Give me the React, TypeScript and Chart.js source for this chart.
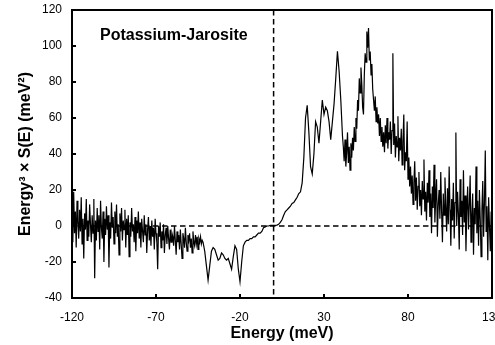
import React, { useEffect, useRef } from "react";
import { Chart, registerables } from "chart.js";

Chart.register(...registerables);

// Energy³ × S(E) (meV²), in three pieces on their own energy grids.

// -120 ... -42.5 meV, every 0.5 meV (noisy low-energy side)
const leftStart = -120;
const leftStep = 0.5;
const leftValues = [
  5, -9, 19, -4, 8, -12, 14, 2, -7, 9, -3, 16, -10, 4, -18, 7, -2, 15, -8, 3,
  -6, 12, 1, -9, 6, -4, 15, -29, 3, -8, 10, -3, 6, -13, 14, -1, -7, 8, -20, 4,
  -5, 11, -2, 6, -23, 2, -7, 13, -1, 5, -10, 8, -4, 12, -6, 1, -16, 7, -3, 10,
  -8, 3, -2, 9, -12, 4, -5, 6, -17, 2, -6, 10, -3, 1, -9, 5, -14, 3, -4, 8,
  -7, 2, -12, 4, -3, -9, 6, -5, 1, -15, -2, 5, -8, 0, -11, 3, -6, -1, -13, 4,
  -4, -9, -24, 0, -6, 2, -12, -3, -8, 1, -15, -5, -1, -10, 0, -7, -13, -2, -9, -4,
  -6, -11, 0, -8, -16, -3, -9, -5, -13, -2, -10, -18, -4, -7, -12, -1, -9, -14, -5, -8,
  -4, -12, -7, -15, -3, -9, -11, -5, -10, -6, -13, -7, -9, -6, -10, -8,
];

// -42 ... 41 meV, every 1 meV (smooth middle part)
const midStart = -42;
const midStep = 1;
const midValues = [
  -9, -14, -22, -30, -22, -14, -12, -13, -16, -19,
  -18, -15, -16, -18, -19, -18, -21, -24, -17, -11,
  -13, -24, -31, -20, -11, -9, -8, -8, -7, -7,
  -6, -6, -5, -4, -4, -3, -1, -0.5, 0, 0,
  0.3, 0.3, 0.3, 0.3, 0.5, 1, 2, 3.5, 6, 8,
  9, 10, 11, 12.5, 13, 14.5, 16, 18, 19, 24,
  38, 60, 67, 52, 33, 29, 40, 58, 55, 46,
  58, 70, 62, 66, 64, 58, 48, 58, 68, 82,
  97, 86, 70, 50,
];

// 41.5 ... 130 meV, every 0.5 meV (noisy high-energy side)
const rightStart = 41.5;
const rightStep = 0.5;
const rightValues = [
  44, 36, 48, 33, 41, 52, 35, 44, 31, 46,
  38, 49, 42, 55, 47, 60, 54, 70, 64, 82,
  74, 88, 79, 66, 62, 84, 96, 91, 108, 99,
  110, 92, 97, 84, 90, 76, 70, 64, 72, 58,
  66, 57, 62, 50, 60, 47, 55, 44, 52, 41,
  56, 46, 60, 43, 52, 48, 58, 40, 53, 96,
  45, 57, 38, 50, 44, 61, 36, 49, 42, 54,
  34, 47, 62, 31, 41, 36, 58, 26, 38, 22,
  33, 18, 28, 12, 24, 36, 14, 27, 9, 22,
  30, 11, 20, 6, 25, 15, 37, 8, 19, 3,
  24, 13, 31, 5, 18, -4, 22, 10, 34, 2,
  16, 26, -6, 12, 20, 4, 30, 8, -9, 18,
  6, 27, 11, -3, 21, 1, 33, 9, -11, 15,
  3, 24, -7, 13, 52, 0, 19, 7, -13, 26,
  5, 14, -5, 31, 2, 17, -14, 9, 22, -2,
  12, 28, -9, 6, 18, -16, 10, 1, 33, -4,
  14, -11, 20, 4, -17, 9, 25, -6, 13, 42,
  -3, 11, -19, 16, 0, -14, 8, 3,
];

const xMin = -120;
const xMax = 130;
const xStep = 50;
const yMin = -40;
const yMax = 120;
const yStep = 20;

const panelLabel = "Potassium-Jarosite";
const xTitle = "Energy (meV)";
const yTitle = "Energy³ × S(E) (meV²)";

const FONT = "'Liberation Sans', Arial, Helvetica, sans-serif";

function toPoints(start: number, step: number, values: number[]) {
  return values.map((v, i) => ({ x: start + i * step, y: v }));
}

export default function App() {
  const canvasRef = useRef<HTMLCanvasElement>(null);

  useEffect(() => {
    const canvas = canvasRef.current;
    if (!canvas) return;

    const points = [
      ...toPoints(leftStart, leftStep, leftValues),
      ...toPoints(midStart, midStep, midValues),
      ...toPoints(rightStart, rightStep, rightValues),
    ];

    const decorPlugin = {
      id: "decor",
      beforeDatasetsDraw(chart: any) {
        const { ctx, chartArea, scales } = chart;
        const { left, right, top, bottom } = chartArea;
        ctx.save();
        ctx.strokeStyle = "#000";
        ctx.lineWidth = 1.5;
        ctx.setLineDash([5.5, 3.5]);
        const y0 = scales.y.getPixelForValue(0);
        ctx.beginPath();
        ctx.moveTo(left, y0);
        ctx.lineTo(right, y0);
        ctx.stroke();
        const x0 = scales.x.getPixelForValue(0);
        ctx.beginPath();
        ctx.moveTo(x0, top);
        ctx.lineTo(x0, bottom);
        ctx.stroke();
        ctx.restore();
      },
      afterDraw(chart: any) {
        const { ctx, chartArea, scales } = chart;
        const { left, right, top, bottom } = chartArea;
        ctx.save();
        ctx.strokeStyle = "#000";
        ctx.lineWidth = 2;
        ctx.setLineDash([]);
        ctx.strokeRect(left, top, right - left, bottom - top);
        scales.x.ticks.forEach((t: any) => {
          const px = scales.x.getPixelForValue(t.value);
          ctx.beginPath();
          ctx.moveTo(px, bottom);
          ctx.lineTo(px, bottom - 4);
          ctx.stroke();
        });
        scales.y.ticks.forEach((t: any) => {
          const py = scales.y.getPixelForValue(t.value);
          ctx.beginPath();
          ctx.moveTo(left, py);
          ctx.lineTo(left + 4, py);
          ctx.stroke();
        });
        ctx.fillStyle = "#000";
        ctx.font = `bold 16px ${FONT}`;
        ctx.textAlign = "left";
        ctx.textBaseline = "middle";
        ctx.fillText(panelLabel, left + 28, top + 26);
        ctx.restore();
      },
    };

    const chart = new Chart(canvas, {
      type: "line",
      data: {
        datasets: [
          {
            data: points,
            borderColor: "#000",
            borderWidth: 1.2,
            pointRadius: 0,
            tension: 0,
            fill: false,
          },
        ],
      },
      options: {
        animation: false,
        responsive: false,
        devicePixelRatio: 1,
        layout: { autoPadding: false, padding: { top: 10, right: 28, left: 0, bottom: 0 } },
        plugins: { legend: { display: false }, tooltip: { enabled: false } },
        scales: {
          x: {
            type: "linear",
            min: xMin,
            max: xMax,
            grid: { display: false, drawTicks: false },
            border: { display: false },
            ticks: {
              stepSize: xStep,
              padding: 12,
              color: "#000",
              font: { family: FONT, size: 12 },
              maxRotation: 0,
            },
            title: {
              display: true,
              text: xTitle,
              color: "#000",
              font: { family: FONT, size: 16, weight: "bold" },
              padding: { top: 0, bottom: 2 },
            },
            afterFit(scale: any) {
              scale.height = 47;
            },
          },
          y: {
            type: "linear",
            min: yMin,
            max: yMax,
            grid: { display: false, drawTicks: false },
            border: { display: false },
            ticks: {
              stepSize: yStep,
              padding: 10,
              color: "#000",
              font: { family: FONT, size: 12 },
            },
            title: {
              display: true,
              text: yTitle,
              color: "#000",
              font: { family: FONT, size: 16, weight: "bold" },
              padding: { top: 16, bottom: 0 },
            },
            afterFit(scale: any) {
              scale.width = 72;
              scale.paddingTop = 0;
              scale.paddingBottom = 0;
            },
          },
        },
      },
      plugins: [decorPlugin],
    } as any);

    return () => chart.destroy();
  }, []);

  return (
    <div
      style={{
        position: "absolute",
        left: 0,
        top: 0,
        width: 495,
        height: 345,
        overflow: "hidden",
        background: "#fff",
      }}
    >
      <canvas ref={canvasRef} width={520} height={345} style={{ display: "block" }} />
    </div>
  );
}
